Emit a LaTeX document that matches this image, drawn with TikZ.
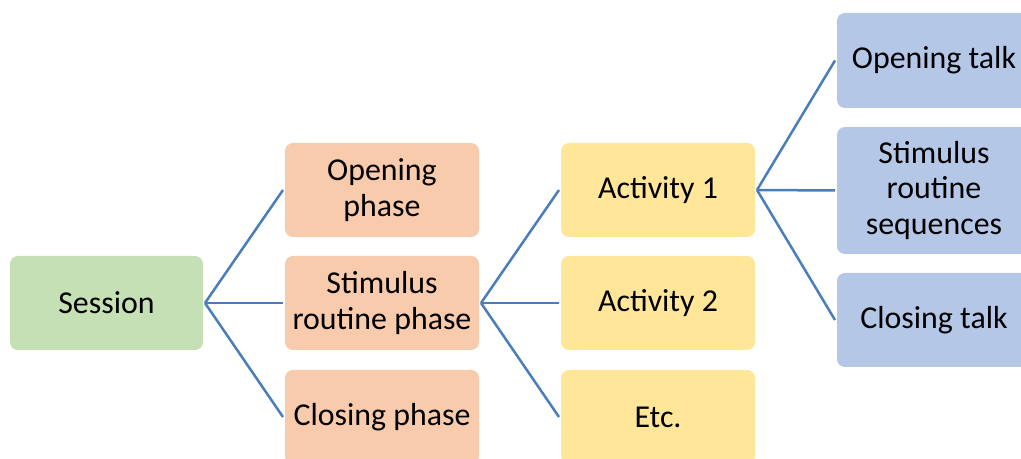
\documentclass[tikz,border=0pt]{standalone}
\usepackage{fontspec}
\setmainfont{Carlito}
\definecolor{cgreen}{HTML}{C5E0B4}
\definecolor{corange}{HTML}{F8CBAD}
\definecolor{cyellow}{HTML}{FFE699}
\definecolor{cblue}{HTML}{B4C7E7}
\definecolor{cline}{HTML}{4A7EBB}
\begin{document}
\begin{tikzpicture}[x=1bp,y=1bp,
  box/.style={rounded corners=8bp, draw=none, minimum width=194bp, minimum height=94bp,
    align=center, inner sep=2bp, outer sep=2bp,
    font=\fontsize{32}{35.5}\selectfont},
  txt/.style={yshift=-2bp},
  link/.style={draw=cline, line width=2.5bp}]
\clip (0,0) rectangle (1021,459);
\useasboundingbox (0,0) rectangle (1021,459);
\node[box, fill=cgreen, minimum width=193bp] (ses) at (106.5,156) {\raisebox{-2bp}{Session}};
\node[box, fill=corange] (op) at (382,269) {Opening\\phase};
\node[box, fill=corange] (sp) at (382,156) {Stimulus\\routine phase};
\node[box, fill=corange] (cp) at (382,42) {\raisebox{-2bp}{Closing phase}};
\node[box, fill=cyellow] (a1) at (658,269) {\raisebox{-2bp}{Activity 1}};
\node[box, fill=cyellow] (a2) at (658,156) {\raisebox{-2bp}{Activity 2}};
\node[box, fill=cyellow] (etc) at (658,42) {\raisebox{-2bp}{Etc.}};
\node[box, fill=cblue, minimum height=95bp] (ot) at (934,398.5) {\raisebox{-2bp}{Opening talk}};
\node[box, fill=cblue, minimum height=127bp] (srs) at (934,268.5) {Stimulus\\routine\\sequences};
\node[box, fill=cblue] (ct) at (934,139) {\raisebox{-2bp}{Closing talk}};
\foreach \c in {op,sp,cp} \draw[link] (ses.east) -- (\c.west);
\foreach \c in {a1,a2,etc} \draw[link] (sp.east) -- (\c.west);
\foreach \c in {ot,srs,ct} \draw[link] (a1.east) -- (\c.west);
\end{tikzpicture}
\end{document}
